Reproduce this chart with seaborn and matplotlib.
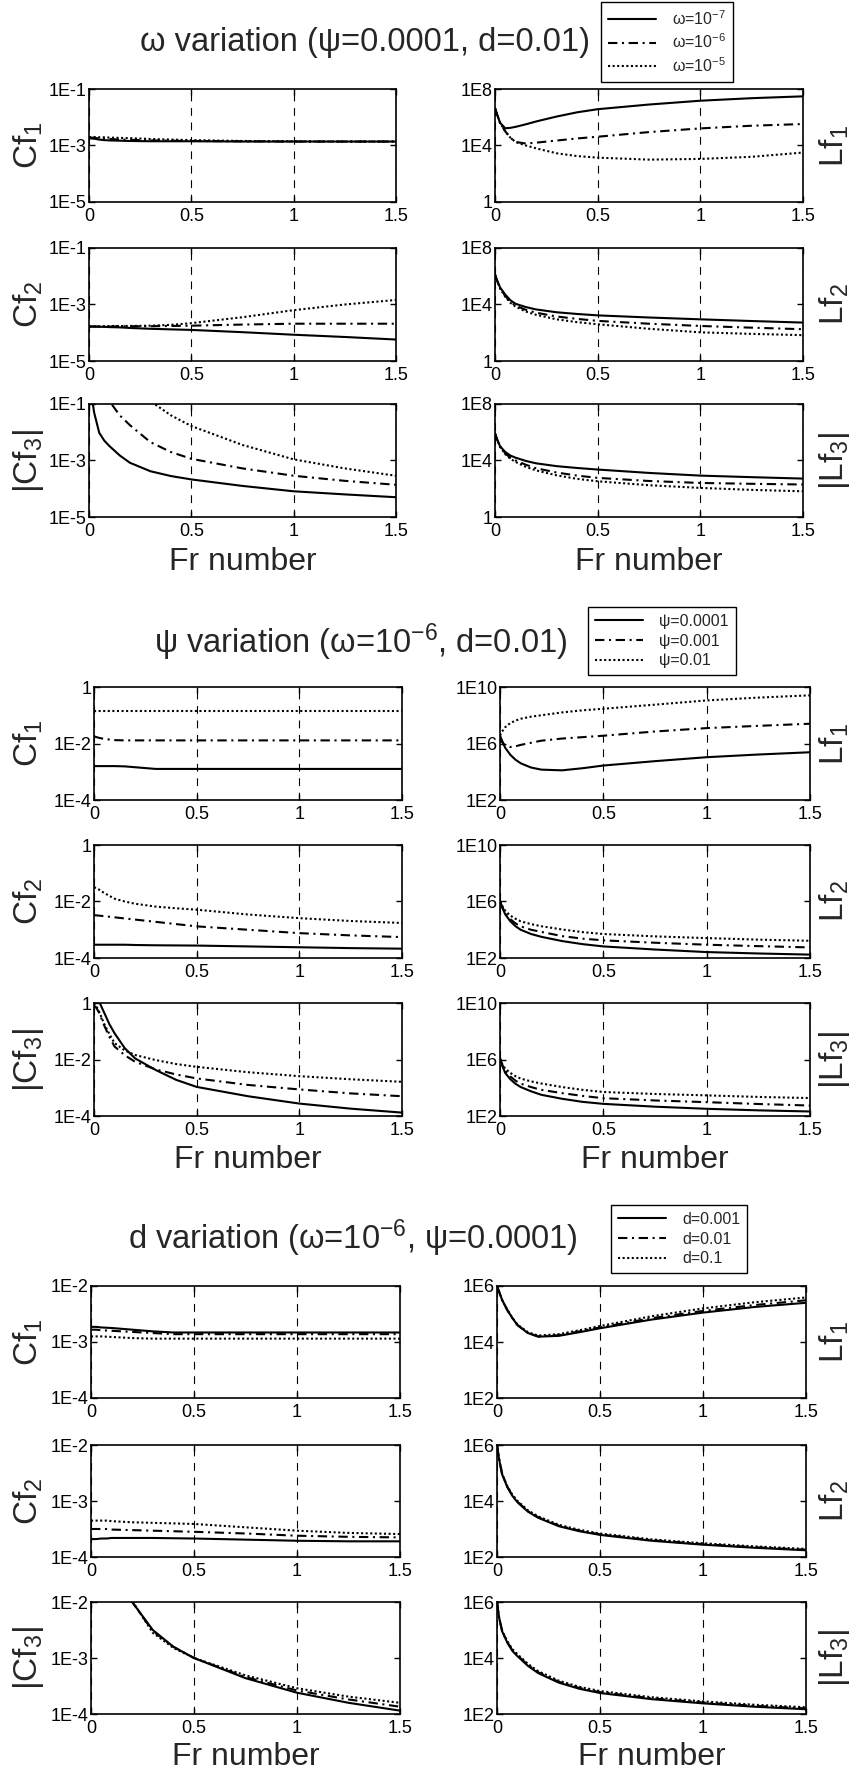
import numpy as np
import matplotlib
matplotlib.use("Agg")
import matplotlib.pyplot as plt
from matplotlib import font_manager
import seaborn as sns

# ---------------- data (log10 of the plotted quantity) -------------
FR = [0, 0.01, 0.025, 0.05, 0.075, 0.1, 0.15, 0.2, 0.3, 0.4, 0.5, 0.75, 1.0, 1.25, 1.5]
X_TICKS = [0, 0.5, 1, 1.5]
X_TICK_LABELS = ["0", "0.5", "1", "1.5"]

# Section 1 : omega variation (psi=0.0001, d=0.01)  -> omega = 1e-7, 1e-6, 1e-5
S1_LABELS = [r"ω=10$\mathregular{^{-7}}$", r"ω=10$\mathregular{^{-6}}$", r"ω=10$\mathregular{^{-5}}$"]
S1_CF1 = [[-2.74, -2.75, -2.76, -2.79, -2.81, -2.82, -2.83, -2.84, -2.85, -2.85, -2.85, -2.86, -2.86, -2.86, -2.86],
          [-2.72, -2.72, -2.73, -2.75, -2.76, -2.77, -2.79, -2.80, -2.82, -2.83, -2.84, -2.85, -2.86, -2.86, -2.86],
          [-2.70, -2.70, -2.70, -2.71, -2.71, -2.72, -2.73, -2.74, -2.77, -2.79, -2.81, -2.84, -2.85, -2.86, -2.86]]
S1_LF1 = [[6.64, 6.20, 5.60, 5.22, 5.25, 5.32, 5.50, 5.70, 6.05, 6.35, 6.57, 6.90, 7.17, 7.35, 7.48],
          [6.64, 6.20, 5.60, 5.00, 4.55, 4.25, 4.14, 4.20, 4.35, 4.50, 4.62, 4.95, 5.21, 5.40, 5.52],
          [6.64, 6.20, 5.60, 5.00, 4.55, 4.25, 4.00, 3.80, 3.45, 3.25, 3.14, 3.00, 3.05, 3.20, 3.50]]
S1_CF2 = [[-3.78, -3.78, -3.78, -3.79, -3.79, -3.80, -3.81, -3.83, -3.86, -3.88, -3.90, -3.98, -4.07, -4.15, -4.24],
          [-3.78, -3.78, -3.78, -3.78, -3.78, -3.78, -3.77, -3.77, -3.77, -3.76, -3.75, -3.71, -3.68, -3.68, -3.68],
          [-3.78, -3.78, -3.78, -3.77, -3.77, -3.76, -3.76, -3.76, -3.75, -3.72, -3.66, -3.45, -3.20, -3.00, -2.84]]
S1_LF2 = [[6.12, 5.70, 5.20, 4.70, 4.30, 4.05, 3.82, 3.65, 3.45, 3.33, 3.23, 3.08, 2.95, 2.83, 2.72],
          [6.12, 5.70, 5.15, 4.60, 4.20, 3.92, 3.62, 3.42, 3.15, 2.98, 2.84, 2.64, 2.48, 2.36, 2.25],
          [6.12, 5.70, 5.12, 4.55, 4.12, 3.85, 3.50, 3.27, 2.95, 2.75, 2.60, 2.28, 2.03, 1.92, 1.83]]
S1_CF3 = [[0.00, -0.55, -1.30, -2.02, -2.30, -2.49, -2.82, -3.08, -3.38, -3.55, -3.67, -3.90, -4.09, -4.20, -4.30],
          [1.00, 0.80, 0.50, 0.00, -0.50, -0.90, -1.40, -1.75, -2.35, -2.70, -2.94, -3.28, -3.54, -3.72, -3.86],
          [2.00, 1.80, 1.50, 1.20, 0.90, 0.60, 0.10, -0.30, -0.90, -1.40, -1.78, -2.45, -2.96, -3.28, -3.54]]
S1_LF3 = [[5.92, 5.50, 5.00, 4.60, 4.35, 4.20, 3.97, 3.80, 3.60, 3.47, 3.36, 3.12, 2.93, 2.82, 2.72],
          [5.92, 5.50, 5.00, 4.50, 4.20, 4.00, 3.70, 3.45, 3.15, 2.93, 2.77, 2.55, 2.41, 2.35, 2.30],
          [5.92, 5.50, 4.95, 4.45, 4.12, 3.90, 3.55, 3.30, 2.95, 2.70, 2.53, 2.25, 2.06, 1.92, 1.82]]

# Section 2 : psi variation (omega=1e-6, d=0.01) -> psi = 0.0001, 0.001, 0.01
S2_LABELS = ["ψ=0.0001", "ψ=0.001", "ψ=0.01"]
S2_CF1 = [[-2.80, -2.80, -2.80, -2.80, -2.80, -2.80, -2.81, -2.84, -2.90, -2.90, -2.90, -2.90, -2.90, -2.90, -2.90],
          [-1.75, -1.77, -1.80, -1.84, -1.86, -1.88, -1.89, -1.89, -1.89, -1.89, -1.89, -1.89, -1.89, -1.89, -1.89],
          [-0.86, -0.86, -0.86, -0.86, -0.86, -0.86, -0.86, -0.86, -0.86, -0.86, -0.86, -0.86, -0.86, -0.86, -0.86]]
S2_LF1 = [[6.57, 6.20, 5.70, 5.20, 4.85, 4.60, 4.30, 4.15, 4.10, 4.25, 4.44, 4.75, 5.03, 5.22, 5.38],
          [6.40, 6.10, 5.85, 5.75, 5.80, 5.90, 6.05, 6.20, 6.35, 6.45, 6.55, 6.85, 7.09, 7.25, 7.40],
          [6.57, 6.85, 7.15, 7.45, 7.62, 7.75, 7.90, 8.00, 8.20, 8.35, 8.46, 8.75, 9.05, 9.25, 9.41]]
S2_CF2 = [[-3.53, -3.53, -3.53, -3.53, -3.53, -3.53, -3.53, -3.54, -3.55, -3.555, -3.56, -3.59, -3.62, -3.65, -3.67],
          [-2.49, -2.49, -2.50, -2.52, -2.54, -2.56, -2.60, -2.64, -2.72, -2.80, -2.88, -3.00, -3.12, -3.20, -3.26],
          [-1.50, -1.52, -1.58, -1.70, -1.80, -1.90, -2.00, -2.08, -2.18, -2.24, -2.29, -2.46, -2.59, -2.69, -2.76]]
S2_LF2 = [[6.00, 5.60, 5.10, 4.60, 4.25, 4.00, 3.70, 3.50, 3.20, 2.98, 2.82, 2.60, 2.42, 2.32, 2.24],
          [6.00, 5.65, 5.20, 4.75, 4.45, 4.24, 4.00, 3.85, 3.55, 3.37, 3.25, 3.08, 2.94, 2.84, 2.75],
          [6.00, 5.70, 5.35, 5.00, 4.78, 4.60, 4.40, 4.25, 4.02, 3.83, 3.70, 3.53, 3.41, 3.30, 3.22]]
S2_CF3 = [[0.40, 0.25, 0.05, -0.35, -0.75, -1.07, -1.60, -1.96, -2.37, -2.72, -2.97, -3.30, -3.56, -3.74, -3.88],
          [-0.10, -0.15, -0.35, -0.80, -1.20, -1.54, -1.85, -2.08, -2.35, -2.53, -2.67, -2.90, -3.06, -3.20, -3.30],
          [0.00, -0.10, -0.30, -0.75, -1.10, -1.42, -1.68, -1.84, -2.02, -2.16, -2.26, -2.45, -2.59, -2.70, -2.79]]
S2_LF3 = [[6.07, 5.60, 5.05, 4.60, 4.28, 4.05, 3.75, 3.50, 3.22, 3.00, 2.86, 2.66, 2.51, 2.40, 2.32],
          [6.07, 5.65, 5.20, 4.80, 4.50, 4.29, 4.05, 3.85, 3.62, 3.42, 3.26, 3.10, 2.98, 2.85, 2.74],
          [6.07, 5.70, 5.35, 5.05, 4.82, 4.65, 4.45, 4.30, 4.05, 3.85, 3.70, 3.56, 3.46, 3.35, 3.27]]

# Section 3 : d variation (omega=1e-6, psi=0.0001) -> d = 0.001, 0.01, 0.1
S3_LABELS = ["d=0.001", "d=0.01", "d=0.1"]
S3_CF1 = [[-2.73, -2.73, -2.73, -2.74, -2.745, -2.75, -2.765, -2.78, -2.81, -2.83, -2.83, -2.83, -2.83, -2.83, -2.83],
          [-2.78, -2.78, -2.78, -2.79, -2.795, -2.80, -2.81, -2.82, -2.84, -2.86, -2.86, -2.86, -2.86, -2.86, -2.86],
          [-2.90, -2.90, -2.90, -2.90, -2.905, -2.91, -2.92, -2.93, -2.94, -2.94, -2.94, -2.94, -2.94, -2.94, -2.94]]
S3_LF1 = [[6.00, 5.80, 5.50, 5.14, 4.85, 4.60, 4.32, 4.19, 4.22, 4.35, 4.49, 4.80, 5.05, 5.25, 5.40],
          [6.00, 5.80, 5.50, 5.14, 4.85, 4.60, 4.32, 4.20, 4.24, 4.38, 4.52, 4.85, 5.11, 5.32, 5.49],
          [6.00, 5.80, 5.50, 5.15, 4.86, 4.62, 4.35, 4.23, 4.28, 4.42, 4.57, 4.92, 5.20, 5.42, 5.59]]
S3_CF2 = [[-3.68, -3.68, -3.68, -3.67, -3.67, -3.66, -3.66, -3.66, -3.66, -3.665, -3.67, -3.69, -3.71, -3.72, -3.72],
          [-3.50, -3.50, -3.50, -3.50, -3.50, -3.51, -3.515, -3.52, -3.53, -3.54, -3.55, -3.58, -3.62, -3.64, -3.65],
          [-3.35, -3.35, -3.35, -3.35, -3.35, -3.36, -3.37, -3.38, -3.39, -3.40, -3.41, -3.47, -3.53, -3.57, -3.59]]
S3_LF2 = [[6.00, 5.50, 4.95, 4.50, 4.18, 3.95, 3.62, 3.40, 3.10, 2.92, 2.79, 2.58, 2.44, 2.33, 2.24],
          [6.00, 5.50, 4.96, 4.51, 4.19, 3.97, 3.64, 3.42, 3.12, 2.94, 2.81, 2.60, 2.46, 2.35, 2.26],
          [6.00, 5.51, 4.97, 4.53, 4.22, 4.00, 3.67, 3.45, 3.15, 2.97, 2.84, 2.63, 2.49, 2.38, 2.29]]
S3_CF3 = [[0.50, 0.30, 0.00, -0.50, -0.90, -1.20, -1.65, -2.00, -2.50, -2.80, -3.00, -3.36, -3.62, -3.80, -3.94],
          [0.50, 0.30, 0.00, -0.50, -0.90, -1.20, -1.65, -2.00, -2.52, -2.80, -3.00, -3.34, -3.58, -3.74, -3.87],
          [0.50, 0.30, 0.00, -0.50, -0.90, -1.20, -1.65, -1.98, -2.55, -2.82, -3.00, -3.31, -3.54, -3.69, -3.80]]
S3_LF3 = [[6.00, 5.45, 4.95, 4.55, 4.25, 4.06, 3.72, 3.46, 3.12, 2.90, 2.75, 2.53, 2.38, 2.26, 2.17],
          [6.00, 5.45, 4.96, 4.57, 4.27, 4.09, 3.75, 3.49, 3.15, 2.93, 2.78, 2.56, 2.41, 2.29, 2.20],
          [6.00, 5.46, 4.98, 4.60, 4.31, 4.13, 3.79, 3.53, 3.19, 2.97, 2.82, 2.60, 2.45, 2.33, 2.24]]

TITLES = ["ω variation (ψ=0.0001, d=0.01)",
          r"ψ variation (ω=10$\mathregular{^{-6}}$, d=0.01)",
          r"d variation (ω=10$\mathregular{^{-6}}$, ψ=0.0001)"]
LEFT_LABELS = [r"Cf$\mathregular{_1}$", r"Cf$\mathregular{_2}$", r"|Cf$\mathregular{_3}$|"]
RIGHT_LABELS = [r"Lf$\mathregular{_1}$", r"Lf$\mathregular{_2}$", r"|Lf$\mathregular{_3}$|"]
X_LABEL = "Fr number"

LEFT_TICKS = [[1e-5, 1e-3, 1e-1], [1e-4, 1e-2, 1], [1e-4, 1e-3, 1e-2]]
LEFT_TICK_LABELS = [["1E-5", "1E-3", "1E-1"], ["1E-4", "1E-2", "1"], ["1E-4", "1E-3", "1E-2"]]
RIGHT_TICKS = [[1, 1e4, 1e8], [1e2, 1e6, 1e10], [1e2, 1e4, 1e6]]
RIGHT_TICK_LABELS = [["1", "1E4", "1E8"], ["1E2", "1E6", "1E10"], ["1E2", "1E4", "1E6"]]

SECTIONS = [
    (S1_LABELS, [S1_CF1, S1_CF2, S1_CF3], [S1_LF1, S1_LF2, S1_LF3]),
    (S2_LABELS, [S2_CF1, S2_CF2, S2_CF3], [S2_LF1, S2_LF2, S2_LF3]),
    (S3_LABELS, [S3_CF1, S3_CF2, S3_CF3], [S3_LF1, S3_LF2, S3_LF3]),
]

# ---------------- styling / layout ----------------
sns.set_style("ticks")
names = {f.name for f in font_manager.fontManager.ttflist}
NARROW = "Liberation Sans Narrow" if "Liberation Sans Narrow" in names else "Liberation Sans"
REG = "Liberation Sans"
plt.rcParams["font.family"] = [NARROW, "DejaVu Sans"]
plt.rcParams["mathtext.fontset"] = "custom"
plt.rcParams["mathtext.rm"] = NARROW

W, H = 850, 1776
fig = plt.figure(figsize=(W / 100, H / 100), dpi=100)

LAYOUT = [
    dict(tops=[89, 248, 404], h=113, lx=(89, 396), rx=(495, 803), title=(365, 43), leg=(667, 42), xl=562),
    dict(tops=[687, 845, 1003], h=113, lx=(94, 402), rx=(500, 810), title=(361, 642), leg=(662, 641), xl=1160),
    dict(tops=[1286, 1445, 1602], h=112, lx=(91, 400), rx=(497, 806), title=(353, 1238), leg=(679, 1239), xl=1757),
]
STYLES = ["-", (0, (4.5, 2.2, 1.0, 2.2)), (0, (1.0, 1.2))]


def rect(x0, x1, yt, yb):
    return [x0 / W, 1 - yb / H, (x1 - x0) / W, (yb - yt) / H]


def style_axes(ax, ylim, ticks, labels):
    ax.set_yscale("log")
    ax.set_xlim(0, 1.5)
    ax.set_ylim(*ylim)
    ax.set_xticks(X_TICKS, X_TICK_LABELS)
    ax.set_yticks(ticks, labels)
    ax.yaxis.set_minor_locator(matplotlib.ticker.NullLocator())
    ax.tick_params(direction="in", length=4, width=1, top=True, right=True,
                   labelsize=13, colors="black")
    ax.tick_params(axis="x", pad=4)
    ax.tick_params(axis="y", pad=1.5)
    for s in ax.spines.values():
        s.set_linewidth(1.2)
        s.set_color("black")
        s.set_visible(True)
    ax.xaxis.grid(True, linestyle=(0, (7, 6)), color="black", linewidth=0.8)
    ax.yaxis.grid(False)
    ax.set_xlabel("")
    ax.set_ylabel("")


for si, (labels, cvals, lvals) in enumerate(SECTIONS):
    L = LAYOUT[si]
    first_ax = None
    for r in range(3):
        yt = L["tops"][r]
        yb = yt + L["h"]
        for side, vals, xr, ticks, tlabels, ylab in [
            ("L", cvals[r], L["lx"], LEFT_TICKS[si], LEFT_TICK_LABELS[si], LEFT_LABELS[r]),
            ("R", lvals[r], L["rx"], RIGHT_TICKS[si], RIGHT_TICK_LABELS[si], RIGHT_LABELS[r]),
        ]:
            ax = fig.add_axes(rect(xr[0], xr[1], yt, yb))
            for k in range(3):
                sns.lineplot(x=FR, y=10 ** np.array(vals[k]), ax=ax, color="black",
                             linestyle=STYLES[k], linewidth=1.5, estimator=None,
                             errorbar=None, legend=False)
            style_axes(ax, (ticks[0], ticks[-1]), ticks, tlabels)
            cy = (yt + yb) / 2
            lx = 28 if side == "L" else 834
            fig.text(lx / W, 1 - cy / H, ylab, rotation=90, ha="center", va="center",
                     fontsize=24, family=[REG, "DejaVu Sans"])
            if first_ax is None:
                first_ax = ax
            if r == 2:
                fig.text((xr[0] + xr[1]) / 2 / W, 1 - L["xl"] / H, X_LABEL,
                         ha="center", va="center", fontsize=23)
    # title
    fig.text(L["title"][0] / W, 1 - L["title"][1] / H, TITLES[si], ha="center",
             va="center", fontsize=23.5)
    # legend
    handles = first_ax.get_lines()[:3]
    leg = first_ax.legend(handles, labels, loc="center",
                          bbox_to_anchor=(L["leg"][0] / W, 1 - L["leg"][1] / H),
                          bbox_transform=fig.transFigure, fontsize=11.5, frameon=True,
                          fancybox=False, edgecolor="black", framealpha=1,
                          handlelength=3.0, handletextpad=1.0, labelspacing=0.3,
                          borderpad=0.45)
    leg.get_frame().set_linewidth(1.0)

fig.savefig("out.png", dpi=100)
